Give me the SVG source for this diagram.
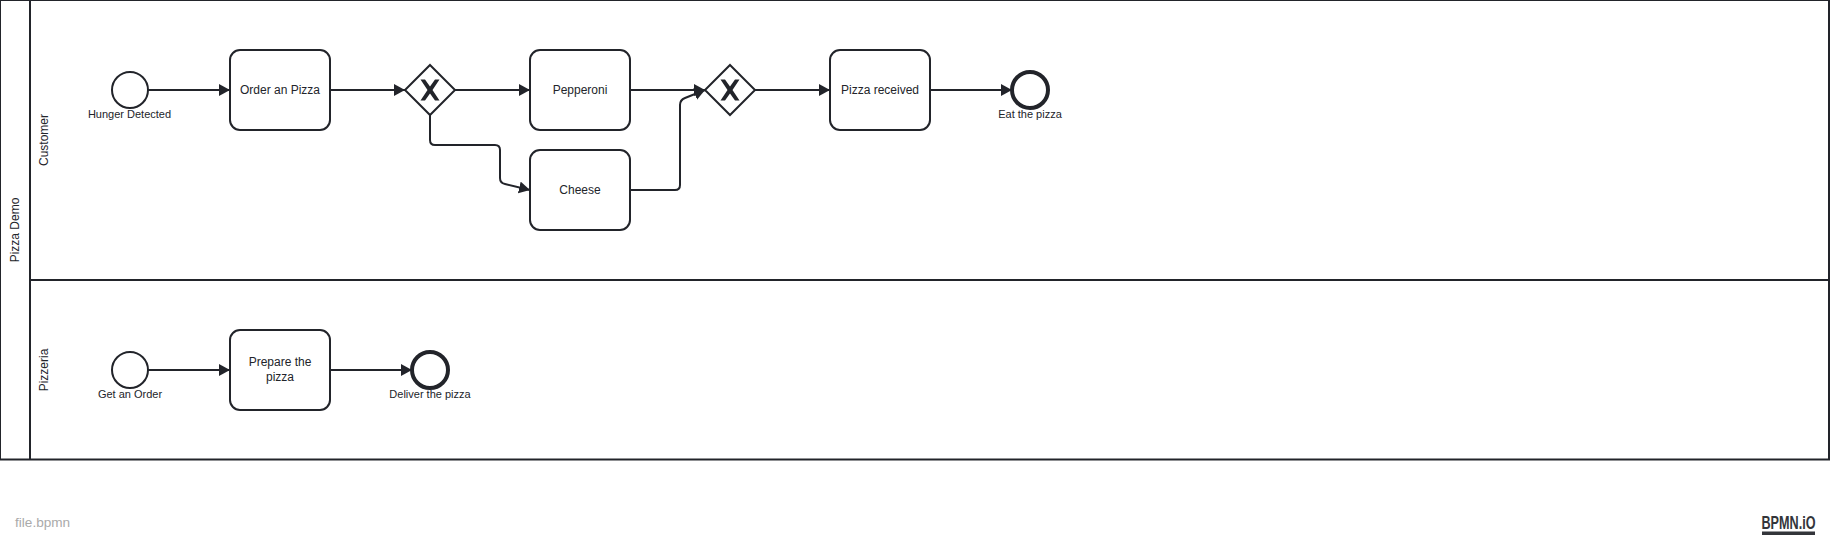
<svg xmlns="http://www.w3.org/2000/svg" width="1830" height="550" viewBox="0 0 1830 550">
<style>
text{font-family:"Liberation Sans",Arial,sans-serif;fill:#22242a;text-anchor:middle}
.t{font-size:12px}
.l{font-size:11px}
.pool{fill:none;stroke:#22242a;stroke-width:2}
.task{fill:#fff;stroke:#22242a;stroke-width:2}
.gw{fill:#fff;stroke:#22242a;stroke-width:2}
.x{fill:#22242a}
.start{fill:#fff;stroke:#22242a;stroke-width:2}
.end{fill:#fff;stroke:#22242a;stroke-width:4}
.flow{fill:none;stroke:#22242a;stroke-width:2;marker-end:url(#arrow)}
</style>
<defs>
<marker id="arrow" markerUnits="userSpaceOnUse" markerWidth="13" markerHeight="13" refX="11" refY="6" orient="auto">
<path d="M0 0L11 6L0 12Z" fill="#22242a"/>
</marker>
<path id="xmark" d="M-9.5 -10.5H-5L0 -3.5L5 -10.5H9.5L2.5 0L9.5 10.5H5L0 3.5L-5 10.5H-9.5L-2.5 0Z"/>
</defs>
<rect width="1830" height="550" fill="#fff"/>
<g id="pool">
<rect class="pool" x="0" y="0" width="1829" height="459.5"/>
<line class="pool" x1="30" y1="0" x2="30" y2="459.5"/>
<line class="pool" x1="30" y1="280" x2="1829" y2="280"/>
<text class="t" transform="translate(18.5 230) rotate(-90)">Pizza Demo</text>
<text class="t" transform="translate(48 140) rotate(-90)">Customer</text>
<text class="t" transform="translate(48 370) rotate(-90)">Pizzeria</text>
</g>
<g id="connectors">
<path class="flow" d="M148 90H230"/>
<path class="flow" d="M330 90H405"/>
<path class="flow" d="M455 90H530"/>
<path class="flow" d="M430 115V140Q430 145 435 145H495Q500 145 500 150V178Q500 183 505 184L530 190"/>
<path class="flow" d="M630 90H705"/>
<path class="flow" d="M630 190H675Q680 190 680 185V105Q680 100 685 98L705 90"/>
<path class="flow" d="M755 90H830"/>
<path class="flow" d="M930 90H1012"/>
<path class="flow" d="M148 370H230"/>
<path class="flow" d="M330 370H412"/>
</g>
<g id="start1"><circle class="start" cx="130" cy="90" r="18"/><text class="l" x="129.5" y="118">Hunger Detected</text></g>
<g id="order"><rect class="task" x="230" y="50" width="100" height="80" rx="10"/><text class="t" x="280" y="94">Order an Pizza</text></g>
<g id="gateway1"><path class="gw" d="M430 65L455 90L430 115L405 90Z"/><use class="x" href="#xmark" x="430" y="90"/></g>
<g id="pepperoni"><rect class="task" x="530" y="50" width="100" height="80" rx="10"/><text class="t" x="580" y="94">Pepperoni</text></g>
<g id="cheese"><rect class="task" x="530" y="150" width="100" height="80" rx="10"/><text class="t" x="580" y="194">Cheese</text></g>
<g id="gateway2"><path class="gw" d="M730 65L755 90L730 115L705 90Z"/><use class="x" href="#xmark" x="730" y="90"/></g>
<g id="received"><rect class="task" x="830" y="50" width="100" height="80" rx="10"/><text class="t" x="880" y="94">Pizza received</text></g>
<g id="end1"><circle class="end" cx="1030" cy="90" r="18"/><text class="l" x="1030" y="118">Eat the pizza</text></g>
<g id="start2"><circle class="start" cx="130" cy="370" r="18"/><text class="l" x="130" y="398">Get an Order</text></g>
<g id="prepare"><rect class="task" x="230" y="330" width="100" height="80" rx="10"/><text class="t" x="280" y="366">Prepare the</text><text class="t" x="280" y="381">pizza</text></g>
<g id="end2"><circle class="end" cx="430" cy="370" r="18"/><text class="l" x="430" y="398">Deliver the pizza</text></g>
<text x="15" y="527" font-size="13.6" style="fill:#aaa;text-anchor:start">file.bpmn</text>
<g id="logo">
<text transform="translate(1761.5 529) scale(0.665 1)" font-size="19" font-weight="bold" style="text-anchor:start;fill:#33353a">BPMN.iO</text>
<rect x="1762" y="531.5" width="53" height="3.5" fill="#33353a"/>
</g>
</svg>
